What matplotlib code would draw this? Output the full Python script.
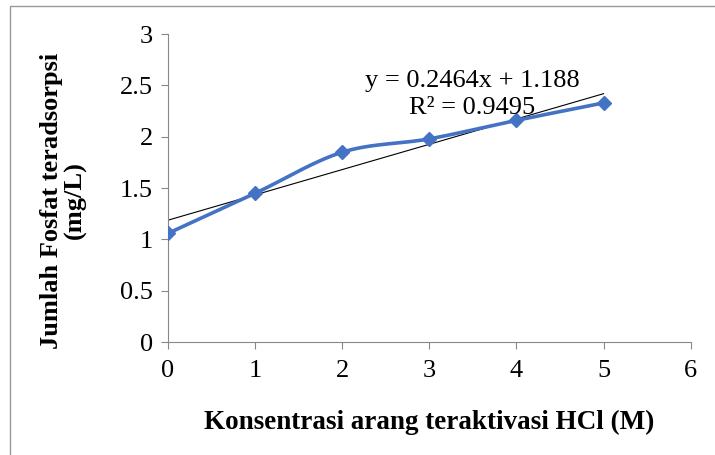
import numpy as np
import matplotlib.pyplot as plt
from matplotlib.patches import Rectangle

# data
konsentrasi = [0, 1, 2, 3, 4, 5]
fosfat = [1.06, 1.45, 1.85, 1.98, 2.16, 2.33]
slope = 0.2464
intercept = 1.188
eq_line = "y = 0.2464x + 1.188"
r2_line = "R² = 0.9495"

plt.rcParams['font.family'] = ['Liberation Serif', 'DejaVu Serif']


def catmull_rom(x, y, n=30):
    # excel-like smoothed line through the points
    x = np.asarray(x, float)
    y = np.asarray(y, float)
    px = np.concatenate([[x[0]], x, [x[-1]]])
    py = np.concatenate([[y[0]], y, [y[-1]]])
    xs, ys = [], []
    t = np.linspace(0, 1, n)
    for i in range(1, len(px) - 2):
        for p, out in ((px, xs), (py, ys)):
            p0, p1, p2, p3 = p[i - 1], p[i], p[i + 1], p[i + 2]
            out.extend(0.5 * ((2 * p1) + (-p0 + p2) * t
                              + (2 * p0 - 5 * p1 + 4 * p2 - p3) * t ** 2
                              + (-p0 + 3 * p1 - 3 * p2 + p3) * t ** 3))
    return np.array(xs), np.array(ys)


fig = plt.figure(figsize=(7.15, 4.55), dpi=100)
ax = fig.add_axes([0.235, 0.248, 0.731, 0.677])

sx, sy = catmull_rom(konsentrasi, fosfat)
ax.plot(sx, sy, color='#4472C4', lw=2.6, zorder=3)
ax.plot(konsentrasi, fosfat, 'D', color='#4472C4', ms=7, zorder=4)

tx = np.array([konsentrasi[0], konsentrasi[-1]])
ax.plot(tx, slope * tx + intercept, color='black', lw=0.8, zorder=2)

ax.text(3.49, 2.54, eq_line, ha='center', va='center', fontsize=19, zorder=5)
ax.text(3.49, 2.28, r2_line, ha='center', va='center', fontsize=19, zorder=5)

ax.set_xlim(0, 6)
ax.set_ylim(0, 3)
ax.set_xticks(range(0, 7))
ax.set_yticks([0, 0.5, 1, 1.5, 2, 2.5, 3])
ax.set_yticklabels(['0', '0.5', '1', '1.5', '2', '2.5', '3'])
for s in ['top', 'right']:
    ax.spines[s].set_visible(False)
for s in ['left', 'bottom']:
    ax.spines[s].set_color('#888888')
ax.tick_params(colors='#888888', labelcolor='black', labelsize=19,
               direction='out', length=5)
ax.tick_params(axis='x', pad=8)
ax.tick_params(axis='y', pad=6)

ax.set_xlabel('Konsentrasi arang teraktivasi HCl (M)', fontsize=19.5,
              fontweight='bold', labelpad=20)
ax.set_ylabel('Jumlah Fosfat teradsorpsi\n(mg/L)', fontsize=19,
              fontweight='bold', linespacing=1.05)
ax.yaxis.set_label_coords(-0.155, 0.46)

fig.patches.append(Rectangle((0.014, -0.02), 1.0, 1.007, transform=fig.transFigure,
                             fill=False, edgecolor='#999999', lw=1))

fig.savefig('out.png', dpi=100)
